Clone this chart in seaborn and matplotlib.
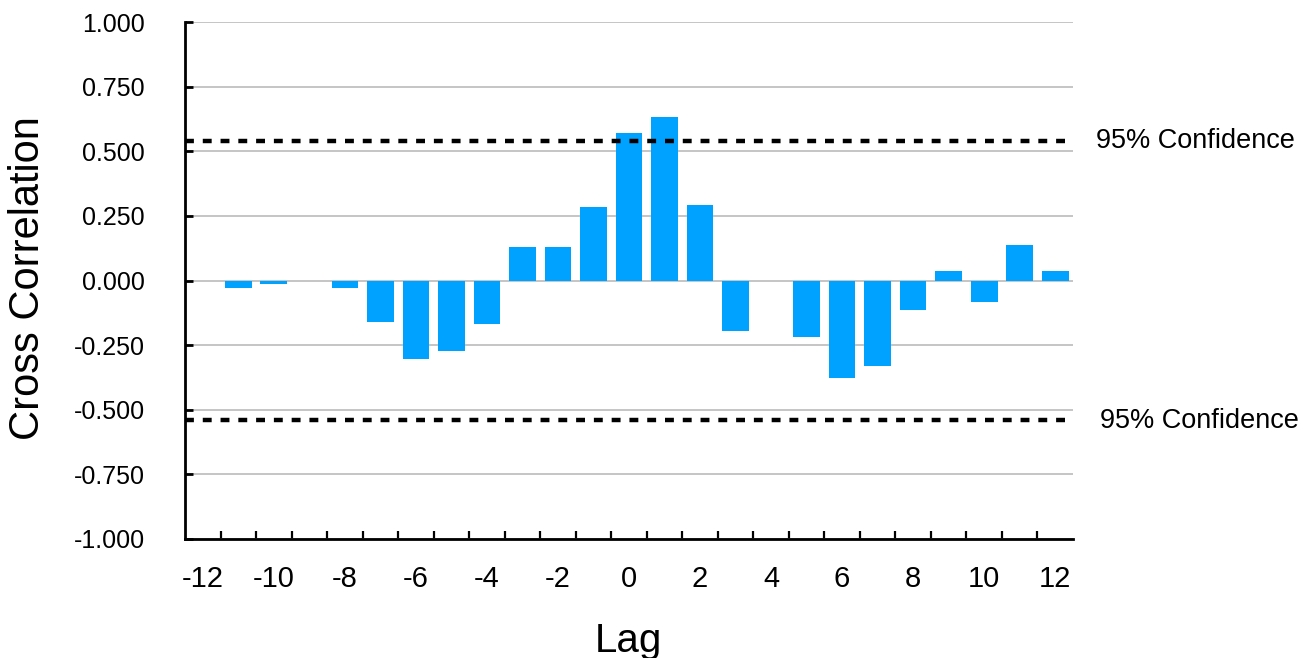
import matplotlib
matplotlib.use("Agg")
import matplotlib.pyplot as plt
import matplotlib.transforms as mtransforms
from matplotlib.ticker import FixedLocator, FuncFormatter
import seaborn as sns
import pandas as pd

lags = list(range(-12, 13))
values = [0.0, -0.030, -0.012, 0.0, -0.030, -0.160, -0.302, -0.272, -0.167,
          0.129, 0.128, 0.283, 0.569, 0.631, 0.291, -0.195, 0.0, -0.218,
          -0.378, -0.330, -0.114, 0.036, -0.083, 0.136, 0.036]
conf_level = 0.54
conf_label = "95% Confidence"
y_ticks = [-1.0, -0.75, -0.5, -0.25, 0.0, 0.25, 0.5, 0.75, 1.0]
x_label_lags = list(range(-12, 13, 2))

df = pd.DataFrame({"Lag": lags, "Value": values})

sns.set_style("white")
plt.rcParams["font.family"] = ["Liberation Sans", "DejaVu Sans"]
plt.rcParams["text.color"] = "black"
plt.rcParams["axes.labelcolor"] = "black"
plt.rcParams["xtick.color"] = "black"
plt.rcParams["ytick.color"] = "black"

fig = plt.figure(figsize=(13.03, 6.58), dpi=100)
ax = fig.add_axes([185 / 1303, 1 - 539 / 658, (1073 - 185) / 1303, (539 - 22) / 658])

sns.barplot(data=df, x="Lag", y="Value", order=lags, color="#00A2FF",
            saturation=1, width=0.75, ax=ax, zorder=3, linewidth=0)

ax.set_xlim(-0.5, len(lags) - 0.5)
ax.set_ylim(-1.0, 1.0)

# y axis
ax.set_yticks(y_ticks)
ax.yaxis.set_major_formatter(FuncFormatter(lambda v, p: f"{v:.3f}"))
ax.tick_params(axis="y", which="major", direction="in", length=6, width=2,
               color="black", labelcolor="black", labelsize=18, pad=29, left=True)
ax.grid(axis="y", color="#bbbbbb", linewidth=1.2, zorder=0)
ax.grid(axis="x", visible=False)

# x axis: labels at even lags, ticks at category boundaries
pos = {lag: i for i, lag in enumerate(lags)}
ax.xaxis.set_major_locator(FixedLocator([pos[l] for l in x_label_lags]))
ax.set_xticklabels([str(l) for l in x_label_lags])
ax.xaxis.set_minor_locator(FixedLocator([i + 0.5 for i in range(len(lags) - 1)]))
ax.tick_params(axis="x", which="major", length=0, labelsize=21, pad=19,
               labelcolor="black")
ax.tick_params(axis="x", which="minor", direction="in", length=6, width=1.6,
               color="black", bottom=True)

for s in ["top", "right"]:
    ax.spines[s].set_visible(False)
for s in ["left", "bottom"]:
    ax.spines[s].set_color("black")
    ax.spines[s].set_linewidth(2.0)

# confidence lines
for c in (conf_level, -conf_level):
    ax.axhline(c, color="black", linewidth=3.2, linestyle=(0, (2, 2)), zorder=4)
trans = mtransforms.blended_transform_factory(ax.transAxes, ax.transData)
ax.text(1.026, conf_level, conf_label, transform=trans, fontsize=19.5,
        ha="left", va="center", color="black")
ax.text(1.030, -conf_level - 0.005, conf_label, transform=trans, fontsize=19.5,
        ha="left", va="center", color="black")

ax.set_xlabel("Lag", fontsize=29, va="center", color="black")
ax.xaxis.set_label_coords(0.499, -0.197)
ax.set_ylabel("Cross Correlation", fontsize=30, va="center", color="black")
ax.yaxis.set_label_coords(-0.177, 0.505)

fig.savefig("out.png", dpi=100)
